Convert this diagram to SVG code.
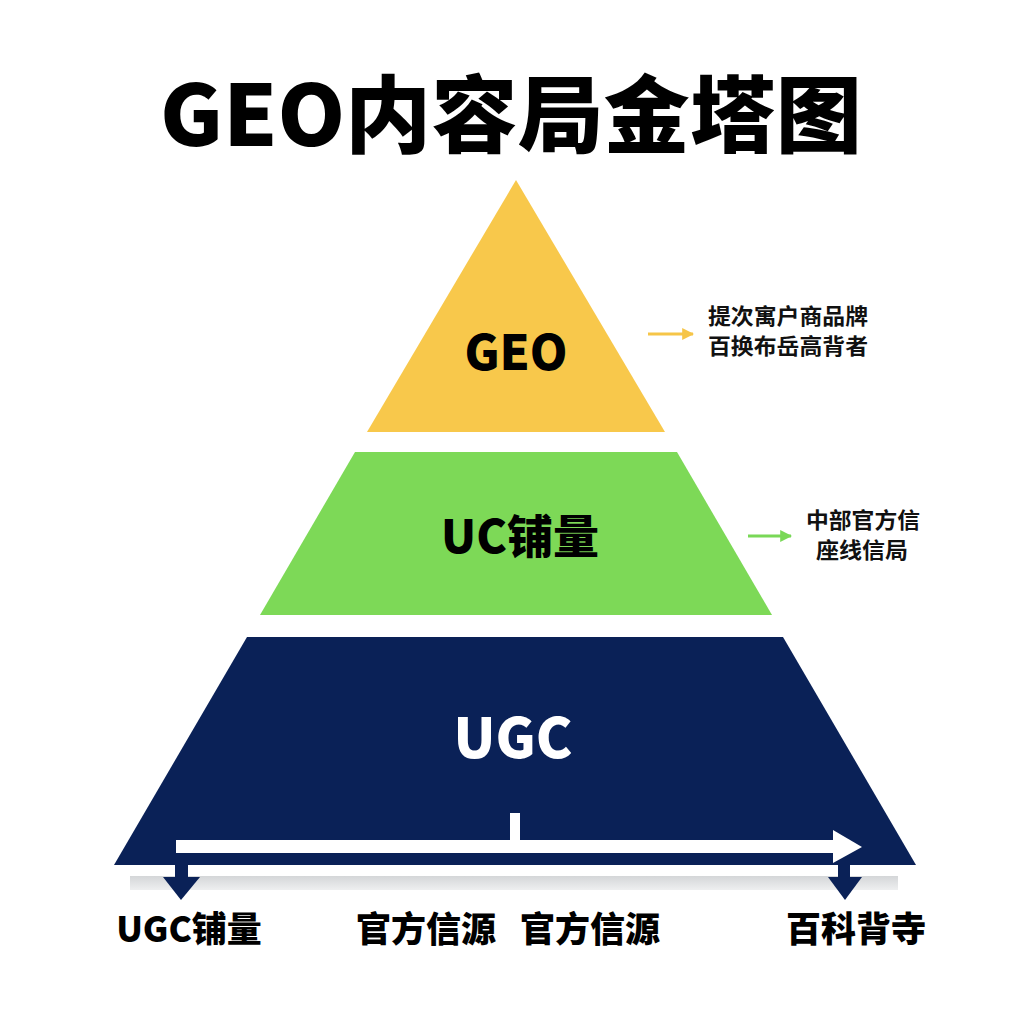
<svg xmlns="http://www.w3.org/2000/svg" width="1024" height="1024" viewBox="0 0 1024 1024">
<defs>
<style>
.t{font-family:"Noto Sans CJK SC","Noto Sans",sans-serif;font-weight:900;text-anchor:middle}
.s{font-family:"Noto Sans CJK SC","Noto Sans",sans-serif;font-weight:700;text-anchor:middle;font-size:22px;fill:#111}
</style>
<linearGradient id="sh" x1="0" y1="0" x2="0" y2="1">
<stop offset="0" stop-color="#d4d6d8"/>
<stop offset="1" stop-color="#eeeff0"/>
</linearGradient>
<marker id="ay" viewBox="0 0 10 10" refX="9" refY="5" markerWidth="4" markerHeight="4" orient="auto"><path d="M0,0L10,5L0,10z" fill="#f6c548"/></marker>
<marker id="ag" viewBox="0 0 10 10" refX="9" refY="5" markerWidth="4" markerHeight="4" orient="auto"><path d="M0,0L10,5L0,10z" fill="#79d857"/></marker>
</defs>
<rect width="1024" height="1024" fill="#ffffff"/>
<text class="t" x="511" y="146" font-size="84" textLength="702" lengthAdjust="spacingAndGlyphs" fill="#000">GEO内容局金塔图</text>
<g id="shadow"><rect x="130" y="876" width="768" height="14" fill="url(#sh)"/></g>
<g id="layer-geo">
<polygon points="516,180 665,432 367,432" fill="#f8c84b"/>
<text class="t" x="516" y="370" font-size="48" fill="#000">GEO</text>
</g>
<g id="layer-uc">
<polygon points="355,452 677,452 772,615 260,615" fill="#7dd957"/>
<text class="t" x="520" y="553" font-size="46" fill="#000">UC铺量</text>
</g>
<g id="layer-ugc">
<polygon points="247,637 783,637 916,865 114,865" fill="#0a2157"/>
<text class="t" x="513" y="758" font-size="55" fill="#fff">UGC</text>
</g>
<g id="connectors">
<rect x="175" y="860" width="13" height="18" fill="#0a2157"/>
<polygon points="163,877 200,877 181,900" fill="#0a2157"/>
<rect x="838" y="860" width="12" height="18" fill="#0a2157"/>
<polygon points="828,877 862,877 845,900" fill="#0a2157"/>
<rect x="176" y="840" width="660" height="13" fill="#fff"/>
<polygon points="833,830 862,847 833,863" fill="#fff"/>
<rect x="510" y="813" width="10" height="30" fill="#fff"/>
<line x1="648" y1="334" x2="693" y2="334" stroke="#f6c548" stroke-width="3" marker-end="url(#ay)"/>
<line x1="748" y1="536" x2="791" y2="536" stroke="#79d857" stroke-width="3" marker-end="url(#ag)"/>
</g>
<g id="note-geo">
<text class="s" x="788" y="324" textLength="160" lengthAdjust="spacingAndGlyphs">提次寓户商品牌</text>
<text class="s" x="788" y="354" textLength="160" lengthAdjust="spacingAndGlyphs">百换布岳高背者</text>
</g>
<g id="note-uc">
<text class="s" x="863" y="528" textLength="114" lengthAdjust="spacingAndGlyphs">中部官方信</text>
<text class="s" x="862" y="558" textLength="92" lengthAdjust="spacingAndGlyphs">座线信局</text>
</g>
<g id="labels">
<text class="t" x="189" y="942" font-size="35" fill="#000">UGC铺量</text>
<text class="t" x="426" y="942" font-size="35" fill="#000">官方信源</text>
<text class="t" x="590" y="942" font-size="35" fill="#000">官方信源</text>
<text class="t" x="856" y="942" font-size="35" fill="#000">百科背寺</text>
</g>
</svg>
